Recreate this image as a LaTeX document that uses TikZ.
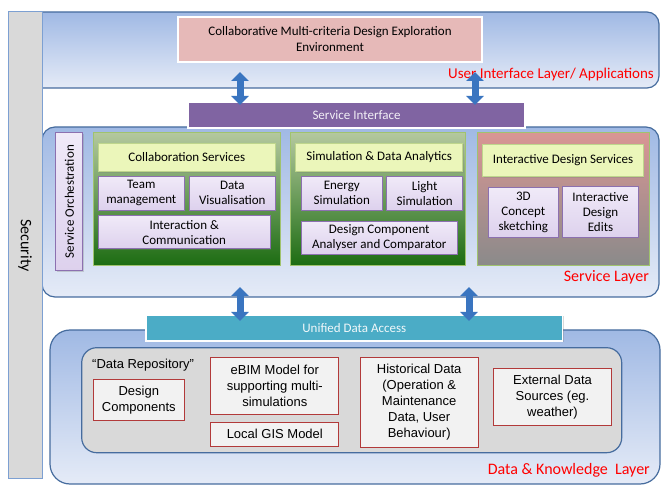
\documentclass[tikz,border=0pt]{standalone}
\usepackage{fontspec}
\setmainfont{Carlito}
\newfontfamily\arialfont{Liberation Sans}
\usetikzlibrary{arrows.meta,shadows}

\definecolor{layerblue}{RGB}{160,185,228}
\definecolor{layerpale}{RGB}{229,235,247}
\definecolor{layeredge}{RGB}{70,108,158}
\definecolor{secgray}{RGB}{217,217,217}
\definecolor{secedge}{RGB}{125,160,210}
\definecolor{apppink}{RGB}{230,185,184}
\definecolor{sipurple}{RGB}{128,100,162}
\definecolor{udateal}{RGB}{75,172,198}
\definecolor{lavtop}{RGB}{240,234,248}
\definecolor{lavbot}{RGB}{221,209,237}
\definecolor{lavedge}{RGB}{140,112,176}
\definecolor{limefill}{RGB}{235,246,186}
\definecolor{limeedge}{RGB}{190,214,140}
\definecolor{grtop}{RGB}{180,200,158}
\definecolor{grmid}{RGB}{105,152,70}
\definecolor{grbot}{RGB}{28,108,18}
\definecolor{gredge}{RGB}{160,195,110}
\definecolor{idtop}{RGB}{217,150,148}
\definecolor{idmid}{RGB}{195,226,236}
\definecolor{idbot}{RGB}{138,138,138}
\definecolor{repogray}{RGB}{217,217,217}
\definecolor{dataedge}{RGB}{178,58,58}
\definecolor{datafill}{RGB}{242,242,242}
\definecolor{arrowblue}{RGB}{58,117,192}

\begin{document}
\begin{tikzpicture}[x=1pt,y=-1pt,font=\fontsize{13}{15}\selectfont]
    \tikzstyle{layer}=[draw=layeredge,line width=1.2pt,top color=layerblue,bottom color=layerpale,inner sep=0pt]
    \tikzstyle{layer label}=[text=red,font=\fontsize{16}{18}\selectfont,inner sep=0pt]
    \tikzstyle{soft shadow}=[drop shadow={shadow xshift=1pt,shadow yshift=-1pt,opacity=0.3}]
    \tikzstyle{bar}=[draw=white,line width=1.5pt,inner sep=0pt,soft shadow]
    \tikzstyle{group}=[draw=gredge,line width=0.8pt,inner sep=0pt]
    \tikzstyle{green group}=[group,top color=grtop,middle color=grmid,bottom color=grbot]
    \tikzstyle{header}=[draw=limeedge,fill=limefill,line width=0.8pt,inner sep=1pt,soft shadow]
    \tikzstyle{service}=[draw=lavedge,top color=lavtop,bottom color=lavbot,line width=0.8pt,align=center,inner sep=1pt,soft shadow]
    \tikzstyle{data}=[draw=dataedge,fill=datafill,line width=1pt,align=center,inner sep=1pt,font=\arialfont\fontsize{13}{16}\selectfont]
    \tikzstyle{updown}=[line width=7pt,draw=arrowblue,{Triangle[width=17pt,length=9pt]}-{Triangle[width=17pt,length=9pt]}]

    \useasboundingbox (0,0) rectangle (662,486);

    % layers
    \node[layer,rounded corners=12pt,minimum width=639,minimum height=76] (UI) at (339.5,50) {};
    \node[layer,rounded corners=13pt,minimum width=617,minimum height=170] (SL) at (350.5,212) {};
    \node[layer,rounded corners=20pt,minimum width=610,minimum height=154] (DL) at (355,407) {};

    \node[draw=secedge,fill=secgray,line width=1pt,rotate=-90,minimum width=467,minimum height=34,
        font=\fontsize{16}{18}\selectfont] (security) at (25,245.5) {Security};

    % user interface layer
    \node[fill=apppink,draw=white,line width=1.5pt,soft shadow,align=center,minimum width=304,minimum height=45,
        font=\fontsize{13}{16}\selectfont] (app) at (330,39.5)
        {Collaborative Multi-criteria Design Exploration\\Environment};
    \node[layer label,anchor=base east,font=\fontsize{15}{17}\selectfont] (UI-label) at (654,79) {User Interface Layer/ Applications};

    % service layer
    \node[service,rotate=90,minimum width=138,minimum height=27] (orchestration) at (69.3,201.7) {Service Orchestration};

    \node[green group,minimum width=187.4,minimum height=133] (G-collab) at (187,199.2) {};
    \node[green group,minimum width=175,minimum height=133] (G-sim) at (378.2,199.2) {};
    \node[group,top color=idtop,middle color=idmid,bottom color=idbot,minimum width=171.3,minimum height=133.4] (G-design) at (563.3,199) {};

    \node[header,minimum width=177,minimum height=28.4] (H-collab) at (186.8,157.5) {Collaboration Services};
    \node[header,minimum width=167,minimum height=28.4] (H-sim) at (379.2,157.5) {Simulation \& Data Analytics};
    \node[header,minimum width=160.6,minimum height=32.7] (H-design) at (563,160.3) {Interactive Design Services};

    \node[service,minimum width=86,minimum height=33.3] (team) at (141.3,193.3) {Team\\management};
    \node[service,minimum width=86,minimum height=33.3] (datavis) at (232.3,193.3) {Data\\Visualisation};
    \node[service,minimum width=171.7,minimum height=33] (interaction) at (184.2,232.2) {Interaction \&\\Communication};

    \node[service,minimum width=80.3,minimum height=33.3] (energy) at (341.8,193.3) {Energy\\Simulation};
    \node[service,minimum width=76,minimum height=33.3] (light) at (424.7,193.3) {Light\\Simulation};
    \node[service,minimum width=155.3,minimum height=33.3] (analyser) at (379.3,237.7) {Design Component\\Analyser and Comparator};

    \node[service,minimum width=70,minimum height=49.6] (sketching) at (523.3,212.5) {3D\\Concept\\sketching};
    \node[service,minimum width=75.6,minimum height=50.6] (edits) at (600.5,212) {Interactive\\Design\\Edits};

    \node[layer label,anchor=base east] (SL-label) at (649,282) {Service Layer};

    % data & knowledge layer
    \node[draw=layeredge,fill=repogray,line width=1.2pt,rounded corners=15pt,minimum width=540,minimum height=105] (repo) at (351.7,400.2) {};
    \node[anchor=west,inner sep=0pt,font=\arialfont\fontsize{13}{16}\selectfont] (repo-label) at (92,365) {“Data Repository”};

    \node[data,minimum width=91,minimum height=40.7] (components) at (138.8,400.3) {Design\\Components};
    \node[data,minimum width=128.3,minimum height=56.6] (ebim) at (274.8,386) {eBIM Model for\\supporting multi-\\simulations};
    \node[data,minimum width=128.3,minimum height=23.7] (gis) at (274.8,434.2) {Local GIS Model};
    \node[data,minimum width=118.3,minimum height=90] (historical) at (419.2,402.3) {Historical Data\\(Operation \&\\Maintenance\\Data, User\\Behaviour)};
    \node[data,minimum width=118.4,minimum height=57.4] (external) at (552.5,397) {External Data\\Sources (eg.\\weather)};

    \node[layer label,anchor=base east] (DL-label) at (650,475) {Data \& Knowledge\ \ Layer};

    % interfaces
    \node[bar,fill=sipurple,text=white!90!sipurple,minimum width=337,minimum height=26] (SI) at (356.5,115) {Service Interface};
    \node[bar,fill=udateal,text=white!92!udateal,minimum width=416.7,minimum height=26] (UDA) at (354.3,328) {Unified Data Access};

    \foreach \name / \x in {a/240,b/475} {
        \coordinate (UI-\name) at (\x,72);
        \coordinate (SI-\name) at (\x,105);
        \draw[updown] (UI-\name) -- (SI-\name);
    }
    \foreach \name / \x in {a/240,b/469} {
        \coordinate (SL-\name) at (\x,287);
        \coordinate (UDA-\name) at (\x,321);
        \draw[updown] (SL-\name) -- (UDA-\name);
    }
\end{tikzpicture}
\end{document}
